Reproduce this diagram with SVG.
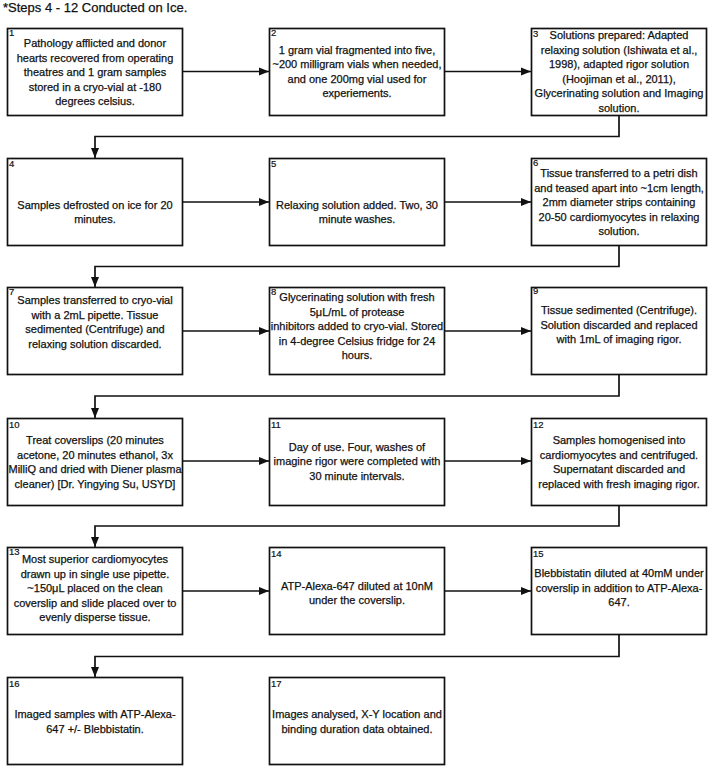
<svg xmlns="http://www.w3.org/2000/svg" width="708" height="766" viewBox="0 0 708 766">
<style>
.box{fill:#fff;stroke:#111;stroke-width:1.7}
.t{font-family:"Liberation Sans",Arial,Helvetica,sans-serif;font-size:11px;fill:#111;stroke:#111;stroke-width:0.25;text-anchor:middle}
.n{font-family:"Liberation Sans",Arial,Helvetica,sans-serif;font-size:9.5px;fill:#111;stroke:#111;stroke-width:0.2}
.title{font-family:"Liberation Sans",Arial,Helvetica,sans-serif;font-size:13px;fill:#111;stroke:#111;stroke-width:0.25}
.c{fill:none;stroke:#111;stroke-width:1.7}
</style>
<defs>
<marker id="ah" markerUnits="userSpaceOnUse" markerWidth="10" markerHeight="10" viewBox="0 0 10 10" refX="10" refY="5" orient="auto">
<path d="M0,1 L10,5 L0,9 Z" fill="#111"/>
</marker>
</defs>
<rect width="708" height="766" fill="#fff"/>
<text class="title" x="3" y="12">*Steps 4 - 12 Conducted on Ice.</text>

<g id="connectors">
<path class="c" d="M182.5,71.5 H269" marker-end="url(#ah)"/>
<path class="c" d="M444.5,71.5 H531" marker-end="url(#ah)"/>
<path class="c" d="M619,115.5 V136.5 H95 V158" marker-end="url(#ah)"/>
<path class="c" d="M182.5,202 H269" marker-end="url(#ah)"/>
<path class="c" d="M444.5,202 H531" marker-end="url(#ah)"/>
<path class="c" d="M619,245.5 V266.5 H95 V287" marker-end="url(#ah)"/>
<path class="c" d="M182.5,331 H269" marker-end="url(#ah)"/>
<path class="c" d="M444.5,331 H531" marker-end="url(#ah)"/>
<path class="c" d="M619,374.5 V396 H95 V418" marker-end="url(#ah)"/>
<path class="c" d="M182.5,461 H269" marker-end="url(#ah)"/>
<path class="c" d="M444.5,461 H531" marker-end="url(#ah)"/>
<path class="c" d="M619,505.5 V526 H95 V547" marker-end="url(#ah)"/>
<path class="c" d="M182.5,591 H269" marker-end="url(#ah)"/>
<path class="c" d="M444.5,591 H531" marker-end="url(#ah)"/>
<path class="c" d="M619,634.5 V656.5 H95 V677" marker-end="url(#ah)"/>
</g>

<g id="n1">
<rect class="box" x="7.5" y="28.5" width="175" height="87"/>
<text class="n" x="9" y="36">1</text>
<text class="t" x="95" y="47">Pathology afflicted and donor</text>
<text class="t" x="95" y="61.6">hearts recovered from operating</text>
<text class="t" x="95" y="76.2">theatres and 1 gram samples</text>
<text class="t" x="95" y="90.8">stored in a cryo-vial at -180</text>
<text class="t" x="95" y="105.4">degrees celsius.</text>
</g>
<g id="n2">
<rect class="box" x="269.5" y="28.5" width="175" height="87"/>
<text class="n" x="271" y="36">2</text>
<text class="t" x="357" y="53.6">1 gram vial fragmented into five,</text>
<text class="t" x="357" y="68.2">~200 milligram vials when needed,</text>
<text class="t" x="357" y="82.8">and one 200mg vial used for</text>
<text class="t" x="357" y="97.4">experiements.</text>
</g>
<g id="n3">
<rect class="box" x="531.5" y="28.5" width="175" height="87"/>
<text class="n" x="533" y="37">3</text>
<text class="t" x="619" y="39">Solutions prepared: Adapted</text>
<text class="t" x="619" y="53.6">relaxing solution (Ishiwata et al.,</text>
<text class="t" x="619" y="68.2">1998), adapted rigor solution</text>
<text class="t" x="619" y="82.8">(Hoojiman et al., 2011),</text>
<text class="t" x="619" y="97.4">Glycerinating solution and Imaging</text>
<text class="t" x="619" y="112">solution.</text>
</g>

<g id="n4">
<rect class="box" x="7.5" y="158.5" width="175" height="87"/>
<text class="n" x="9" y="167">4</text>
<text class="t" x="95" y="209">Samples defrosted on ice for 20</text>
<text class="t" x="95" y="223">minutes.</text>
</g>
<g id="n5">
<rect class="box" x="269.5" y="158.5" width="175" height="87"/>
<text class="n" x="271" y="167">5</text>
<text class="t" x="357" y="209">Relaxing solution added. Two, 30</text>
<text class="t" x="357" y="223">minute washes.</text>
</g>
<g id="n6">
<rect class="box" x="531.5" y="158.5" width="175" height="87"/>
<text class="n" x="533" y="166">6</text>
<text class="t" x="619" y="177">Tissue transferred to a petri dish</text>
<text class="t" x="619" y="191.6">and teased apart into ~1cm length,</text>
<text class="t" x="619" y="206.2">2mm diameter strips containing</text>
<text class="t" x="619" y="220.8">20-50 cardiomyocytes in relaxing</text>
<text class="t" x="619" y="235.4">solution.</text>
</g>

<g id="n7">
<rect class="box" x="7.5" y="287.5" width="175" height="87"/>
<text class="n" x="9" y="295">7</text>
<text class="t" x="95" y="304">Samples transferred to cryo-vial</text>
<text class="t" x="95" y="318.5">with a 2mL pipette. Tissue</text>
<text class="t" x="95" y="333">sedimented (Centrifuge) and</text>
<text class="t" x="95" y="347.5">relaxing solution discarded.</text>
</g>
<g id="n8">
<rect class="box" x="269.5" y="287.5" width="175" height="87"/>
<text class="n" x="271" y="295">8</text>
<text class="t" x="357" y="301">Glycerinating solution with fresh</text>
<text class="t" x="357" y="315.5">5μL/mL  of protease</text>
<text class="t" x="357" y="330">inhibitors added to cryo-vial. Stored</text>
<text class="t" x="357" y="344.5">in 4-degree Celsius fridge for 24</text>
<text class="t" x="357" y="359">hours.</text>
</g>
<g id="n9">
<rect class="box" x="531.5" y="287.5" width="175" height="87"/>
<text class="n" x="533" y="294">9</text>
<text class="t" x="619" y="314">Tissue sedimented (Centrifuge).</text>
<text class="t" x="619" y="328.5">Solution discarded and replaced</text>
<text class="t" x="619" y="343">with 1mL of imaging rigor.</text>
</g>

<g id="n10">
<rect class="box" x="7.5" y="418.5" width="175" height="87"/>
<text class="n" x="9" y="428">10</text>
<text class="t" x="95" y="444">Treat coverslips (20 minutes</text>
<text class="t" x="95" y="458.5">acetone, 20 minutes ethanol, 3x</text>
<text class="t" x="95" y="473">MilliQ and dried with Diener plasma</text>
<text class="t" x="95" y="487.5">cleaner) [Dr. Yingying Su, USYD]</text>
</g>
<g id="n11">
<rect class="box" x="269.5" y="418.5" width="175" height="87"/>
<text class="n" x="271" y="428">11</text>
<text class="t" x="357" y="450.5">Day of use. Four, washes of</text>
<text class="t" x="357" y="465">imagine rigor were completed with</text>
<text class="t" x="357" y="479.5">30 minute intervals.</text>
</g>
<g id="n12">
<rect class="box" x="531.5" y="418.5" width="175" height="87"/>
<text class="n" x="533" y="428">12</text>
<text class="t" x="619" y="444">Samples homogenised into</text>
<text class="t" x="619" y="458.5">cardiomyocytes and centrifuged.</text>
<text class="t" x="619" y="473">Supernatant discarded and</text>
<text class="t" x="619" y="487.5">replaced with fresh imaging rigor.</text>
</g>

<g id="n13">
<rect class="box" x="7.5" y="547.5" width="175" height="87"/>
<text class="n" x="9" y="555">13</text>
<text class="t" x="95" y="563">Most superior cardiomyocytes</text>
<text class="t" x="95" y="577.5">drawn up in single use pipette.</text>
<text class="t" x="95" y="592">~150μL placed on the clean</text>
<text class="t" x="95" y="606.5">coverslip and slide placed over to</text>
<text class="t" x="95" y="621">evenly disperse tissue.</text>
</g>
<g id="n14">
<rect class="box" x="269.5" y="547.5" width="175" height="87"/>
<text class="n" x="271" y="557">14</text>
<text class="t" x="357" y="590">ATP-Alexa-647 diluted at 10nM</text>
<text class="t" x="357" y="604">under the coverslip.</text>
</g>
<g id="n15">
<rect class="box" x="531.5" y="547.5" width="175" height="87"/>
<text class="n" x="533" y="557">15</text>
<text class="t" x="619" y="577">Blebbistatin diluted at 40mM under</text>
<text class="t" x="619" y="591.5">coverslip in addition to ATP-Alexa-</text>
<text class="t" x="619" y="606">647.</text>
</g>

<g id="n16">
<rect class="box" x="7.5" y="677.5" width="175" height="87"/>
<text class="n" x="9" y="687">16</text>
<text class="t" x="95" y="718">Imaged samples with ATP-Alexa-</text>
<text class="t" x="95" y="732.5">647 +/- Blebbistatin.</text>
</g>
<g id="n17">
<rect class="box" x="269.5" y="677.5" width="175" height="87"/>
<text class="n" x="271" y="687">17</text>
<text class="t" x="357" y="718">Images analysed, X-Y location and</text>
<text class="t" x="357" y="732.5">binding duration data obtained.</text>
</g>
</svg>
